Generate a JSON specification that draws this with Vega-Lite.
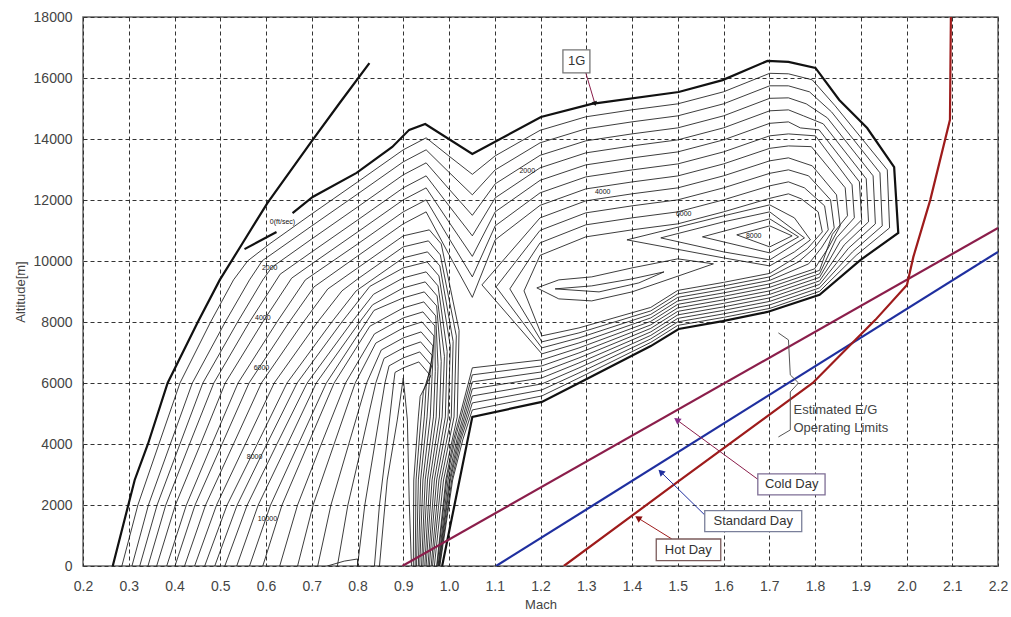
{
"$schema":"https://vega.github.io/schema/vega-lite/v6.json",
"width":915,"height":549,"autosize":"none",
"padding":{"left":83,"top":17,"right":13,"bottom":51},
"background":"white",
"config":{"view":{"stroke":"#666","strokeWidth":1.5},"font":"Liberation Sans"},
"datasets":{
"contours":[
{"c":"j1","m":0.285,"a":0},{"c":"j1","m":0.320,"a":2001},{"c":"j1","m":0.366,"a":4002},{"c":"j1","m":0.412,"a":6002},{"c":"j1","m":0.479,"a":8003},{"c":"j1","m":0.529,"a":9381},{"c":"j1","m":0.560,"a":10004},{"c":"j1","m":0.608,"a":10562},{"c":"j1","m":0.699,"a":11532},{"c":"j1","m":0.800,"a":12589},{"c":"j1","m":0.900,"a":13645},{"c":"j1","m":0.950,"a":14038},{"c":"j1","m":1.000,"a":13440},{"c":"j1","m":1.051,"a":12842},{"c":"j1","m":1.101,"a":13448},{"c":"j1","m":1.199,"a":14284},{"c":"j1","m":1.299,"a":14727},{"c":"j1","m":1.400,"a":14956},{"c":"j1","m":1.500,"a":15153},{"c":"j1","m":1.600,"a":15547},{"c":"j1","m":1.701,"a":16154},{"c":"j1","m":1.742,"a":16137},{"c":"j1","m":1.794,"a":15940},{"c":"j1","m":1.844,"a":15088},{"c":"j1","m":1.958,"a":12989},{"c":"j1","m":1.963,"a":11087},{"c":"j1","m":1.890,"a":10185},{"c":"j1","m":1.810,"a":9004},{"c":"j1","m":1.701,"a":8446},{"c":"j1","m":1.600,"a":8151},{"c":"j1","m":1.500,"a":7889},{"c":"j1","m":1.441,"a":7331},{"c":"j1","m":1.284,"a":6166},{"c":"j1","m":1.203,"a":5576},{"c":"j1","m":1.051,"a":5117},{"c":"j1","m":1.030,"a":4133},{"c":"j1","m":1.008,"a":2821},{"c":"j1","m":0.980,"a":0},
{"c":"j2","m":0.307,"a":0},{"c":"j2","m":0.343,"a":2001},{"c":"j2","m":0.391,"a":4002},{"c":"j2","m":0.439,"a":6002},{"c":"j2","m":0.511,"a":8003},{"c":"j2","m":0.564,"a":9381},{"c":"j2","m":0.592,"a":10011},{"c":"j2","m":0.699,"a":11139},{"c":"j2","m":0.800,"a":12195},{"c":"j2","m":0.900,"a":13251},{"c":"j2","m":0.950,"a":13645},{"c":"j2","m":1.000,"a":12908},{"c":"j2","m":1.051,"a":12170},{"c":"j2","m":1.101,"a":12989},{"c":"j2","m":1.199,"a":13874},{"c":"j2","m":1.299,"a":14333},{"c":"j2","m":1.400,"a":14562},{"c":"j2","m":1.500,"a":14759},{"c":"j2","m":1.600,"a":15153},{"c":"j2","m":1.701,"a":15744},{"c":"j2","m":1.742,"a":15743},{"c":"j2","m":1.788,"a":15546},{"c":"j2","m":1.836,"a":14891},{"c":"j2","m":1.942,"a":12891},{"c":"j2","m":1.947,"a":11153},{"c":"j2","m":1.882,"a":10300},{"c":"j2","m":1.810,"a":9119},{"c":"j2","m":1.701,"a":8561},{"c":"j2","m":1.600,"a":8266},{"c":"j2","m":1.500,"a":8004},{"c":"j2","m":1.441,"a":7446},{"c":"j2","m":1.284,"a":6330},{"c":"j2","m":1.203,"a":5773},{"c":"j2","m":1.051,"a":5347},{"c":"j2","m":1.026,"a":4133},{"c":"j2","m":1.006,"a":2821},{"c":"j2","m":0.979,"a":0},
{"c":"j3","m":0.324,"a":0},{"c":"j3","m":0.362,"a":2001},{"c":"j3","m":0.412,"a":4002},{"c":"j3","m":0.462,"a":6002},{"c":"j3","m":0.538,"a":8003},{"c":"j3","m":0.593,"a":9381},{"c":"j3","m":0.613,"a":9797},{"c":"j3","m":0.699,"a":10712},{"c":"j3","m":0.800,"a":11769},{"c":"j3","m":0.900,"a":12825},{"c":"j3","m":0.950,"a":13218},{"c":"j3","m":1.000,"a":12358},{"c":"j3","m":1.051,"a":11497},{"c":"j3","m":1.101,"a":12530},{"c":"j3","m":1.199,"a":13464},{"c":"j3","m":1.299,"a":13939},{"c":"j3","m":1.400,"a":14168},{"c":"j3","m":1.500,"a":14365},{"c":"j3","m":1.600,"a":14759},{"c":"j3","m":1.701,"a":15334},{"c":"j3","m":1.742,"a":15349},{"c":"j3","m":1.781,"a":15152},{"c":"j3","m":1.827,"a":14694},{"c":"j3","m":1.927,"a":12793},{"c":"j3","m":1.932,"a":11219},{"c":"j3","m":1.873,"a":10415},{"c":"j3","m":1.810,"a":9234},{"c":"j3","m":1.701,"a":8676},{"c":"j3","m":1.600,"a":8381},{"c":"j3","m":1.500,"a":8119},{"c":"j3","m":1.441,"a":7561},{"c":"j3","m":1.284,"a":6494},{"c":"j3","m":1.203,"a":5970},{"c":"j3","m":1.051,"a":5577},{"c":"j3","m":1.023,"a":4133},{"c":"j3","m":1.003,"a":2821},{"c":"j3","m":0.978,"a":0},
{"c":"j4","m":0.342,"a":0},{"c":"j4","m":0.381,"a":2001},{"c":"j4","m":0.433,"a":4002},{"c":"j4","m":0.486,"a":6002},{"c":"j4","m":0.564,"a":8003},{"c":"j4","m":0.631,"a":9568},{"c":"j4","m":0.699,"a":10286},{"c":"j4","m":0.800,"a":11342},{"c":"j4","m":0.900,"a":12398},{"c":"j4","m":0.950,"a":12792},{"c":"j4","m":1.000,"a":11809},{"c":"j4","m":1.051,"a":10825},{"c":"j4","m":1.101,"a":12071},{"c":"j4","m":1.199,"a":13054},{"c":"j4","m":1.299,"a":13545},{"c":"j4","m":1.400,"a":13774},{"c":"j4","m":1.500,"a":13971},{"c":"j4","m":1.600,"a":14365},{"c":"j4","m":1.701,"a":14924},{"c":"j4","m":1.742,"a":14955},{"c":"j4","m":1.775,"a":14758},{"c":"j4","m":1.818,"a":14497},{"c":"j4","m":1.912,"a":12695},{"c":"j4","m":1.917,"a":11285},{"c":"j4","m":1.864,"a":10530},{"c":"j4","m":1.810,"a":9349},{"c":"j4","m":1.701,"a":8791},{"c":"j4","m":1.600,"a":8496},{"c":"j4","m":1.500,"a":8234},{"c":"j4","m":1.441,"a":7676},{"c":"j4","m":1.284,"a":6658},{"c":"j4","m":1.203,"a":6167},{"c":"j4","m":1.051,"a":5807},{"c":"j4","m":1.020,"a":4133},{"c":"j4","m":1.001,"a":2821},{"c":"j4","m":0.977,"a":0},
{"c":"j5","m":0.361,"a":0},{"c":"j5","m":0.402,"a":2001},{"c":"j5","m":0.457,"a":4002},{"c":"j5","m":0.511,"a":6002},{"c":"j5","m":0.593,"a":8003},{"c":"j5","m":0.656,"a":9437},{"c":"j5","m":0.699,"a":9893},{"c":"j5","m":0.800,"a":10949},{"c":"j5","m":0.900,"a":12005},{"c":"j5","m":0.950,"a":12398},{"c":"j5","m":1.000,"a":11275},{"c":"j5","m":1.051,"a":10152},{"c":"j5","m":1.101,"a":11612},{"c":"j5","m":1.199,"a":12644},{"c":"j5","m":1.299,"a":13151},{"c":"j5","m":1.400,"a":13380},{"c":"j5","m":1.500,"a":13577},{"c":"j5","m":1.600,"a":13971},{"c":"j5","m":1.701,"a":14514},{"c":"j5","m":1.742,"a":14561},{"c":"j5","m":1.768,"a":14364},{"c":"j5","m":1.809,"a":14300},{"c":"j5","m":1.897,"a":12597},{"c":"j5","m":1.902,"a":11351},{"c":"j5","m":1.855,"a":10645},{"c":"j5","m":1.810,"a":9464},{"c":"j5","m":1.701,"a":8906},{"c":"j5","m":1.600,"a":8611},{"c":"j5","m":1.500,"a":8349},{"c":"j5","m":1.441,"a":7791},{"c":"j5","m":1.284,"a":6822},{"c":"j5","m":1.203,"a":6364},{"c":"j5","m":1.051,"a":6037},{"c":"j5","m":1.017,"a":4133},{"c":"j5","m":0.998,"a":2821},{"c":"j5","m":0.976,"a":0},
{"c":"j6","m":0.383,"a":0},{"c":"j6","m":0.426,"a":2001},{"c":"j6","m":0.482,"a":4002},{"c":"j6","m":0.539,"a":6002},{"c":"j6","m":0.624,"a":8003},{"c":"j6","m":0.686,"a":9381},{"c":"j6","m":0.800,"a":10555},{"c":"j6","m":0.900,"a":11611},{"c":"j6","m":0.950,"a":12005},{"c":"j6","m":1.000,"a":10743},{"c":"j6","m":1.051,"a":9480},{"c":"j6","m":1.101,"a":11153},{"c":"j6","m":1.199,"a":12234},{"c":"j6","m":1.299,"a":12757},{"c":"j6","m":1.400,"a":12986},{"c":"j6","m":1.500,"a":13183},{"c":"j6","m":1.600,"a":13577},{"c":"j6","m":1.701,"a":14104},{"c":"j6","m":1.742,"a":14167},{"c":"j6","m":1.801,"a":14103},{"c":"j6","m":1.881,"a":12499},{"c":"j6","m":1.886,"a":11417},{"c":"j6","m":1.847,"a":10760},{"c":"j6","m":1.810,"a":9579},{"c":"j6","m":1.701,"a":9021},{"c":"j6","m":1.600,"a":8726},{"c":"j6","m":1.500,"a":8464},{"c":"j6","m":1.441,"a":7906},{"c":"j6","m":1.284,"a":6986},{"c":"j6","m":1.203,"a":6561},{"c":"j6","m":1.051,"a":6267},{"c":"j6","m":1.013,"a":4133},{"c":"j6","m":0.995,"a":2821},{"c":"j6","m":0.974,"a":0},
{"c":"j7","m":0.401,"a":0},{"c":"j7","m":0.445,"a":2001},{"c":"j7","m":0.504,"a":4002},{"c":"j7","m":0.563,"a":6002},{"c":"j7","m":0.651,"a":8003},{"c":"j7","m":0.705,"a":9151},{"c":"j7","m":0.800,"a":10161},{"c":"j7","m":0.900,"a":11218},{"c":"j7","m":0.950,"a":11611},{"c":"j7","m":1.000,"a":10210},{"c":"j7","m":1.051,"a":8808},{"c":"j7","m":1.101,"a":10694},{"c":"j7","m":1.199,"a":11824},{"c":"j7","m":1.299,"a":12363},{"c":"j7","m":1.400,"a":12592},{"c":"j7","m":1.500,"a":12789},{"c":"j7","m":1.600,"a":13183},{"c":"j7","m":1.701,"a":13694},{"c":"j7","m":1.742,"a":13773},{"c":"j7","m":1.792,"a":13750},{"c":"j7","m":1.866,"a":12401},{"c":"j7","m":1.871,"a":11483},{"c":"j7","m":1.838,"a":10875},{"c":"j7","m":1.810,"a":9694},{"c":"j7","m":1.701,"a":9136},{"c":"j7","m":1.600,"a":8841},{"c":"j7","m":1.500,"a":8579},{"c":"j7","m":1.441,"a":8021},{"c":"j7","m":1.284,"a":7150},{"c":"j7","m":1.203,"a":6758},{"c":"j7","m":1.051,"a":6497},{"c":"j7","m":1.010,"a":4133},{"c":"j7","m":0.993,"a":2821},{"c":"j7","m":0.973,"a":0},
{"c":"j8","m":0.422,"a":0},{"c":"j8","m":0.468,"a":2001},{"c":"j8","m":0.529,"a":4002},{"c":"j8","m":0.590,"a":6002},{"c":"j8","m":0.682,"a":8003},{"c":"j8","m":0.735,"a":9082},{"c":"j8","m":0.800,"a":9768},{"c":"j8","m":0.900,"a":10824},{"c":"j8","m":0.957,"a":11021},{"c":"j8","m":0.983,"a":10562},{"c":"j8","m":1.022,"a":7724},{"c":"j8","m":1.018,"a":4887},{"c":"j8","m":0.988,"a":2821},{"c":"j8","m":0.968,"a":0},
{"c":"j9","m":0.444,"a":0},{"c":"j9","m":0.492,"a":2001},{"c":"j9","m":0.555,"a":4002},{"c":"j9","m":0.618,"a":6002},{"c":"j9","m":0.713,"a":8003},{"c":"j9","m":0.766,"a":9020},{"c":"j9","m":0.800,"a":9407},{"c":"j9","m":0.900,"a":10463},{"c":"j9","m":0.955,"a":10660},{"c":"j9","m":0.981,"a":10201},{"c":"j9","m":1.016,"a":7544},{"c":"j9","m":1.011,"a":4887},{"c":"j9","m":0.983,"a":2821},{"c":"j9","m":0.964,"a":0},
{"c":"j10","m":0.466,"a":0},{"c":"j10","m":0.515,"a":2001},{"c":"j10","m":0.581,"a":4002},{"c":"j10","m":0.646,"a":6002},{"c":"j10","m":0.744,"a":8003},{"c":"j10","m":0.797,"a":9020},{"c":"j10","m":0.900,"a":10102},{"c":"j10","m":0.953,"a":10299},{"c":"j10","m":0.980,"a":9840},{"c":"j10","m":1.009,"a":7364},{"c":"j10","m":1.005,"a":4887},{"c":"j10","m":0.978,"a":2821},{"c":"j10","m":0.961,"a":0},
{"c":"j11","m":0.488,"a":0},{"c":"j11","m":0.537,"a":2001},{"c":"j11","m":0.602,"a":4002},{"c":"j11","m":0.668,"a":6002},{"c":"j11","m":0.766,"a":8003},{"c":"j11","m":0.827,"a":9168},{"c":"j11","m":0.900,"a":9774},{"c":"j11","m":0.952,"a":9971},{"c":"j11","m":0.978,"a":9512},{"c":"j11","m":1.003,"a":7200},{"c":"j11","m":0.998,"a":4887},{"c":"j11","m":0.973,"a":2821},{"c":"j11","m":0.957,"a":0},
{"c":"j12","m":0.510,"a":0},{"c":"j12","m":0.559,"a":2001},{"c":"j12","m":0.624,"a":4002},{"c":"j12","m":0.690,"a":6002},{"c":"j12","m":0.788,"a":8003},{"c":"j12","m":0.835,"a":8908},{"c":"j12","m":0.900,"a":9446},{"c":"j12","m":0.950,"a":9643},{"c":"j12","m":0.976,"a":9184},{"c":"j12","m":0.996,"a":7036},{"c":"j12","m":0.992,"a":4887},{"c":"j12","m":0.968,"a":2821},{"c":"j12","m":0.954,"a":0},
{"c":"j13","m":0.536,"a":0},{"c":"j13","m":0.583,"a":2001},{"c":"j13","m":0.647,"a":4002},{"c":"j13","m":0.710,"a":6002},{"c":"j13","m":0.805,"a":8003},{"c":"j13","m":0.833,"a":8564},{"c":"j13","m":0.900,"a":9118},{"c":"j13","m":0.948,"a":9315},{"c":"j13","m":0.974,"a":8856},{"c":"j13","m":0.990,"a":6872},{"c":"j13","m":0.985,"a":4887},{"c":"j13","m":0.963,"a":2821},{"c":"j13","m":0.950,"a":0},
{"c":"j14","m":0.564,"a":0},{"c":"j14","m":0.610,"a":2001},{"c":"j14","m":0.671,"a":4002},{"c":"j14","m":0.732,"a":6002},{"c":"j14","m":0.836,"a":8380},{"c":"j14","m":0.900,"a":8790},{"c":"j14","m":0.946,"a":8987},{"c":"j14","m":0.973,"a":8528},{"c":"j14","m":0.983,"a":6708},{"c":"j14","m":0.979,"a":4887},{"c":"j14","m":0.958,"a":2821},{"c":"j14","m":0.947,"a":0},
{"c":"j15","m":0.593,"a":0},{"c":"j15","m":0.635,"a":2001},{"c":"j15","m":0.692,"a":4002},{"c":"j15","m":0.749,"a":6002},{"c":"j15","m":0.827,"a":7862},{"c":"j15","m":0.900,"a":8462},{"c":"j15","m":0.945,"a":8659},{"c":"j15","m":0.971,"a":8200},{"c":"j15","m":0.976,"a":6544},{"c":"j15","m":0.972,"a":4887},{"c":"j15","m":0.953,"a":2821},{"c":"j15","m":0.943,"a":0},
{"c":"j16","m":0.630,"a":0},{"c":"j16","m":0.669,"a":2001},{"c":"j16","m":0.721,"a":4002},{"c":"j16","m":0.774,"a":6002},{"c":"j16","m":0.837,"a":7610},{"c":"j16","m":0.900,"a":8134},{"c":"j16","m":0.943,"a":8331},{"c":"j16","m":0.969,"a":7872},{"c":"j16","m":0.970,"a":6380},{"c":"j16","m":0.966,"a":4887},{"c":"j16","m":0.948,"a":2821},{"c":"j16","m":0.940,"a":0},
{"c":"j17","m":0.669,"a":0},{"c":"j17","m":0.703,"a":2001},{"c":"j17","m":0.749,"a":4002},{"c":"j17","m":0.795,"a":6002},{"c":"j17","m":0.840,"a":7308},{"c":"j17","m":0.900,"a":7806},{"c":"j17","m":0.941,"a":8003},{"c":"j17","m":0.967,"a":7544},{"c":"j17","m":0.963,"a":6216},{"c":"j17","m":0.959,"a":4887},{"c":"j17","m":0.943,"a":2821},{"c":"j17","m":0.936,"a":0},
{"c":"j18","m":0.713,"a":0},{"c":"j18","m":0.742,"a":2001},{"c":"j18","m":0.781,"a":4002},{"c":"j18","m":0.820,"a":6002},{"c":"j18","m":0.852,"a":7082},{"c":"j18","m":0.900,"a":7478},{"c":"j18","m":0.939,"a":7675},{"c":"j18","m":0.965,"a":7216},{"c":"j18","m":0.957,"a":6052},{"c":"j18","m":0.952,"a":4887},{"c":"j18","m":0.938,"a":2821},{"c":"j18","m":0.933,"a":0},
{"c":"j19","m":0.756,"a":0},{"c":"j19","m":0.779,"a":2001},{"c":"j19","m":0.810,"a":4002},{"c":"j19","m":0.840,"a":6002},{"c":"j19","m":0.858,"a":6806},{"c":"j19","m":0.900,"a":7150},{"c":"j19","m":0.938,"a":7347},{"c":"j19","m":0.964,"a":6888},{"c":"j19","m":0.950,"a":5888},{"c":"j19","m":0.946,"a":4887},{"c":"j19","m":0.933,"a":2821},{"c":"j19","m":0.929,"a":0},
{"c":"j20","m":0.800,"a":0},{"c":"j20","m":0.816,"a":2001},{"c":"j20","m":0.838,"a":4002},{"c":"j20","m":0.860,"a":6002},{"c":"j20","m":0.869,"a":6563},{"c":"j20","m":0.900,"a":6822},{"c":"j20","m":0.936,"a":7019},{"c":"j20","m":0.962,"a":6560},{"c":"j20","m":0.944,"a":5724},{"c":"j20","m":0.939,"a":4887},{"c":"j20","m":0.928,"a":2821},{"c":"j20","m":0.926,"a":0},
{"c":"j21","m":0.837,"a":0},{"c":"j21","m":0.848,"a":2001},{"c":"j21","m":0.864,"a":4002},{"c":"j21","m":0.879,"a":6002},{"c":"j21","m":0.882,"a":6347},{"c":"j21","m":0.900,"a":6494},{"c":"j21","m":0.934,"a":6691},{"c":"j21","m":0.960,"a":6232},{"c":"j21","m":0.937,"a":5560},{"c":"j21","m":0.933,"a":4887},{"c":"j21","m":0.923,"a":2821},{"c":"j21","m":0.922,"a":0},
{"c":"j22","m":0.848,"a":0},{"c":"j22","m":0.865,"a":2821},{"c":"j22","m":0.887,"a":4789},{"c":"j22","m":0.900,"a":6166},{"c":"j22","m":0.909,"a":4789},{"c":"j22","m":0.913,"a":2165},{"c":"j22","m":0.918,"a":0},
{"c":"bump","m":0.734,"a":0},{"c":"bump","m":0.771,"a":160},{"c":"bump","m":0.800,"a":230},{"c":"bump","m":0.800,"a":0},
{"c":"k8","m":1.072,"a":9217},{"c":"k8","m":1.199,"a":11414},{"c":"k8","m":1.299,"a":11972},{"c":"k8","m":1.400,"a":12202},{"c":"k8","m":1.500,"a":12398},{"c":"k8","m":1.600,"a":12792},{"c":"k8","m":1.701,"a":13284},{"c":"k8","m":1.742,"a":13382},{"c":"k8","m":1.794,"a":13120},{"c":"k8","m":1.847,"a":12169},{"c":"k8","m":1.855,"a":11152},{"c":"k8","m":1.829,"a":10430},{"c":"k8","m":1.799,"a":9742},{"c":"k8","m":1.701,"a":9250},{"c":"k8","m":1.600,"a":8954},{"c":"k8","m":1.500,"a":8692},{"c":"k8","m":1.441,"a":8134},{"c":"k8","m":1.284,"a":7314},{"c":"k8","m":1.203,"a":6955},{"c":"k8","m":1.072,"a":9217},
{"c":"k9","m":1.103,"a":9151},{"c":"k9","m":1.199,"a":11004},{"c":"k9","m":1.299,"a":11578},{"c":"k9","m":1.400,"a":11808},{"c":"k9","m":1.500,"a":12005},{"c":"k9","m":1.600,"a":12398},{"c":"k9","m":1.701,"a":12874},{"c":"k9","m":1.742,"a":12989},{"c":"k9","m":1.786,"a":12792},{"c":"k9","m":1.834,"a":12005},{"c":"k9","m":1.842,"a":11086},{"c":"k9","m":1.814,"a":10430},{"c":"k9","m":1.786,"a":9906},{"c":"k9","m":1.701,"a":9364},{"c":"k9","m":1.600,"a":9069},{"c":"k9","m":1.500,"a":8807},{"c":"k9","m":1.441,"a":8249},{"c":"k9","m":1.284,"a":7478},{"c":"k9","m":1.203,"a":7152},{"c":"k9","m":1.103,"a":9151},
{"c":"k10","m":1.133,"a":9086},{"c":"k10","m":1.199,"a":10594},{"c":"k10","m":1.299,"a":11185},{"c":"k10","m":1.400,"a":11414},{"c":"k10","m":1.500,"a":11611},{"c":"k10","m":1.600,"a":12005},{"c":"k10","m":1.701,"a":12464},{"c":"k10","m":1.742,"a":12595},{"c":"k10","m":1.777,"a":12398},{"c":"k10","m":1.821,"a":11808},{"c":"k10","m":1.829,"a":11021},{"c":"k10","m":1.799,"a":10430},{"c":"k10","m":1.764,"a":9971},{"c":"k10","m":1.701,"a":9479},{"c":"k10","m":1.600,"a":9184},{"c":"k10","m":1.500,"a":8922},{"c":"k10","m":1.441,"a":8364},{"c":"k10","m":1.284,"a":7642},{"c":"k10","m":1.203,"a":7349},{"c":"k10","m":1.133,"a":9086},
{"c":"k11","m":1.164,"a":9020},{"c":"k11","m":1.199,"a":10184},{"c":"k11","m":1.299,"a":10791},{"c":"k11","m":1.400,"a":11021},{"c":"k11","m":1.500,"a":11218},{"c":"k11","m":1.600,"a":11611},{"c":"k11","m":1.701,"a":12054},{"c":"k11","m":1.742,"a":12202},{"c":"k11","m":1.770,"a":12038},{"c":"k11","m":1.807,"a":11611},{"c":"k11","m":1.816,"a":10955},{"c":"k11","m":1.783,"a":10398},{"c":"k11","m":1.749,"a":10037},{"c":"k11","m":1.701,"a":9594},{"c":"k11","m":1.600,"a":9299},{"c":"k11","m":1.500,"a":9036},{"c":"k11","m":1.441,"a":8479},{"c":"k11","m":1.284,"a":7806},{"c":"k11","m":1.203,"a":7546},{"c":"k11","m":1.164,"a":9020},
{"c":"u1","m":1.192,"a":9118},{"c":"u1","m":1.240,"a":9381},{"c":"u1","m":1.312,"a":9479},{"c":"u1","m":1.400,"a":9774},{"c":"u1","m":1.500,"a":10070},{"c":"u1","m":1.578,"a":9907},{"c":"u1","m":1.502,"a":9512},{"c":"u1","m":1.400,"a":8987},{"c":"u1","m":1.312,"a":8692},{"c":"u1","m":1.240,"a":8758},{"c":"u1","m":1.192,"a":9118},
{"c":"u2","m":1.232,"a":9086},{"c":"u2","m":1.312,"a":9184},{"c":"u2","m":1.400,"a":9414},{"c":"u2","m":1.470,"a":9643},{"c":"u2","m":1.415,"a":9282},{"c":"u2","m":1.328,"a":8987},{"c":"u2","m":1.232,"a":9086},
{"c":"d1","m":1.389,"a":10693},{"c":"d1","m":1.600,"a":11480},{"c":"d1","m":1.701,"a":11841},{"c":"d1","m":1.755,"a":11414},{"c":"d1","m":1.790,"a":10693},{"c":"d1","m":1.755,"a":10299},{"c":"d1","m":1.701,"a":9840},{"c":"d1","m":1.600,"a":10102},{"c":"d1","m":1.389,"a":10693},
{"c":"d2","m":1.463,"a":10758},{"c":"d2","m":1.600,"a":11283},{"c":"d2","m":1.701,"a":11611},{"c":"d2","m":1.777,"a":10758},{"c":"d2","m":1.701,"a":10037},{"c":"d2","m":1.600,"a":10299},{"c":"d2","m":1.463,"a":10758},
{"c":"d3","m":1.554,"a":10791},{"c":"d3","m":1.701,"a":11382},{"c":"d3","m":1.764,"a":10791},{"c":"d3","m":1.701,"a":10266},{"c":"d3","m":1.554,"a":10791},
{"c":"d4","m":1.629,"a":10857},{"c":"d4","m":1.701,"a":11152},{"c":"d4","m":1.750,"a":10824},{"c":"d4","m":1.701,"a":10463},{"c":"d4","m":1.629,"a":10857}
],
"thick":[
{"c":"left","m":0.265,"a":0},{"c":"left","m":0.313,"a":2820},{"c":"left","m":0.342,"a":4000},{"c":"left","m":0.385,"a":6000},{"c":"left","m":0.451,"a":8000},{"c":"left","m":0.499,"a":9380},{"c":"left","m":0.549,"a":10590},{"c":"left","m":0.603,"a":11900},{"c":"left","m":0.702,"a":13970},{"c":"left","m":0.761,"a":15180},{"c":"left","m":0.826,"a":16490},
{"c":"seg","m":0.553,"a":10390},{"c":"seg","m":0.623,"a":10950},
{"c":"env","m":0.658,"a":11570},{"c":"env","m":0.702,"a":12100},{"c":"env","m":0.798,"a":12890},{"c":"env","m":0.876,"a":13740},{"c":"env","m":0.913,"a":14300},{"c":"env","m":0.948,"a":14490},{"c":"env","m":1.051,"a":13510},{"c":"env","m":1.201,"a":14720},{"c":"env","m":1.312,"a":15150},{"c":"env","m":1.502,"a":15540},{"c":"env","m":1.598,"a":15930},{"c":"env","m":1.696,"a":16560},{"c":"env","m":1.742,"a":16530},{"c":"env","m":1.801,"a":16330},{"c":"env","m":1.853,"a":15280},{"c":"env","m":1.914,"a":14360},{"c":"env","m":1.973,"a":13080},{"c":"env","m":1.982,"a":10920},{"c":"env","m":1.899,"a":10030},{"c":"env","m":1.810,"a":8890},{"c":"env","m":1.696,"a":8330},{"c":"env","m":1.598,"a":8030},{"c":"env","m":1.502,"a":7770},{"c":"env","m":1.441,"a":7210},{"c":"env","m":1.284,"a":6000},{"c":"env","m":1.203,"a":5380},{"c":"env","m":1.051,"a":4890},{"c":"env","m":0.985,"a":0}
],
"limits":[
{"c":"cold","m":0.898,"a":0},{"c":"cold","m":2.2,"a":11082},
{"c":"std","m":1.103,"a":0},{"c":"std","m":2.2,"a":10300},
{"c":"hot","m":1.251,"a":0},{"c":"hot","m":1.502,"a":2780},{"c":"hot","m":1.795,"a":6000},{"c":"hot","m":1.888,"a":7410},{"c":"hot","m":1.932,"a":8070},{"c":"hot","m":2.001,"a":9217},{"c":"hot","m":2.015,"a":10135},{"c":"hot","m":2.052,"a":12005},{"c":"hot","m":2.095,"a":14630},{"c":"hot","m":2.097,"a":18000}
],
"arrows":[
{"c":"cold","m":1.677,"a":2821},{"c":"cold","m":1.498,"a":4789},
{"c":"std","m":1.559,"a":1673},{"c":"std","m":1.463,"a":3083},
{"c":"hot","m":1.487,"a":886},{"c":"hot","m":1.413,"a":1574},
{"c":"g1","m":1.299,"a":16170},{"c":"g1","m":1.319,"a":15154}
],
"heads":[
{"c":"cold","m":1.498,"a":4789},{"c":"std","m":1.463,"a":3083},{"c":"hot","m":1.413,"a":1574},{"c":"g1","m":1.319,"a":15154}
],
"brace":[
{"m":1.720,"a":7642},{"m":1.742,"a":7413},{"m":1.746,"a":6265},{"m":1.764,"a":6002},{"m":1.746,"a":5707},{"m":1.746,"a":4461},{"m":1.720,"a":4231}
],
"boxes":[
{"c":"cold","m":1.675,"m2":1.822,"a":3018,"a2":2329},
{"c":"std","m":1.559,"m2":1.771,"a":1814,"a2":1125},
{"c":"hot","m":1.453,"m2":1.594,"a":886,"a2":174},
{"c":"g1","m":1.249,"m2":1.308,"a":16925,"a2":16170}
],
"boxtext":[
{"t":"Cold Day","m":1.749,"a":2673},{"t":"Standard Day","m":1.665,"a":1470},{"t":"Hot Day","m":1.523,"a":530},{"t":"1G","m":1.279,"a":16548}
],
"notes":[
{"t":"Estimated E/G","m":1.753,"a":5117},{"t":"Operating Limits","m":1.753,"a":4526}
],
"labels":[
{"t":"0(ft/sec)","m":0.636,"a":11283},{"t":"2000","m":0.608,"a":9774},{"t":"4000","m":0.593,"a":8134},{"t":"6000","m":0.590,"a":6494},{"t":"8000","m":0.575,"a":3575},{"t":"10000","m":0.603,"a":1542},
{"t":"2000","m":1.171,"a":12956},{"t":"4000","m":1.336,"a":12267},{"t":"6000","m":1.513,"a":11546},{"t":"8000","m":1.666,"a":10824}
]
},
"encoding":{
"x":{"field":"m","type":"quantitative","scale":{"domain":[0.2,2.2],"nice":false,"zero":false},
"axis":{"values":[0.2,0.3,0.4,0.5,0.6,0.7,0.8,0.9,1.0,1.1,1.2,1.3,1.4,1.5,1.6,1.7,1.8,1.9,2.0,2.1,2.2],"format":".1f","title":"Mach","tickSize":0,"labelPadding":13,"domain":false,"grid":true,"gridDash":[4,3],"gridColor":"#333","gridWidth":1,"gridOpacity":1,"labelFlush":false,"labelOverlap":false,"labelFontSize":14,"labelColor":"#444","titleFontSize":13,"titleFontWeight":"normal","titleColor":"#444","titlePadding":5,"labelFont":"Liberation Sans","titleFont":"Liberation Sans"}},
"y":{"field":"a","type":"quantitative","scale":{"domain":[0,18000],"nice":false},
"axis":{"values":[0,2000,4000,6000,8000,10000,12000,14000,16000,18000],"format":"d","title":"Altitude[m]","tickSize":0,"labelPadding":11,"domain":false,"grid":true,"gridDash":[4,3],"gridColor":"#333","gridWidth":1,"gridOpacity":1,"labelOverlap":false,"labelFontSize":14,"labelColor":"#444","titleFontSize":13,"titleFontWeight":"normal","titleColor":"#444","titlePadding":6,"labelFont":"Liberation Sans","titleFont":"Liberation Sans"}}
},
"layer":[
{"data":{"name":"contours"},"mark":{"type":"line","color":"#1a1a1a","strokeWidth":0.85,"clip":true},"encoding":{"detail":{"field":"c","type":"nominal"},"order":{"value":null}}},
{"data":{"name":"thick"},"mark":{"type":"line","color":"#111","strokeWidth":2.2,"clip":true},"encoding":{"detail":{"field":"c","type":"nominal"},"order":{"value":null}}},
{"data":{"name":"limits"},"mark":{"type":"line","strokeWidth":2.2,"clip":true},"encoding":{"color":{"field":"c","type":"nominal","scale":{"domain":["cold","std","hot"],"range":["#8B1E4B","#1F2F9F","#9E1B1B"]},"legend":null},"order":{"value":null}}},
{"data":{"name":"brace"},"mark":{"type":"line","color":"#555","strokeWidth":1},"encoding":{"order":{"value":null}}},
{"data":{"name":"arrows"},"mark":{"type":"line","strokeWidth":1},"encoding":{"detail":{"field":"c","type":"nominal"},"color":{"field":"c","type":"nominal","scale":{"domain":["cold","std","hot","g1"],"range":["#666","#666","#666","#222"]},"legend":null},"order":{"value":null}}},
{"data":{"name":"heads"},"transform":[{"filter":"datum.c == 'cold'"}],"mark":{"type":"point","shape":"triangle-up","filled":true,"size":55,"angle":305,"color":"#8B2C8B","opacity":1}},
{"data":{"name":"heads"},"transform":[{"filter":"datum.c == 'std'"}],"mark":{"type":"point","shape":"triangle-up","filled":true,"size":55,"angle":314,"color":"#1F2F9F","opacity":1}},
{"data":{"name":"heads"},"transform":[{"filter":"datum.c == 'hot'"}],"mark":{"type":"point","shape":"triangle-up","filled":true,"size":55,"angle":302,"color":"#8B1010","opacity":1}},
{"data":{"name":"heads"},"transform":[{"filter":"datum.c == 'g1'"}],"mark":{"type":"point","shape":"triangle-up","filled":true,"size":30,"angle":164,"color":"#111","opacity":1}},
{"data":{"name":"boxes"},"mark":{"type":"rect","fill":"white","strokeWidth":1.3},"encoding":{"x2":{"field":"m2"},"y2":{"field":"a2"},"stroke":{"field":"c","type":"nominal","scale":{"domain":["cold","std","hot","g1"],"range":["#7E6E95","#7A7F9A","#7B5B5B","#777"]},"legend":null}}},
{"data":{"name":"boxtext"},"mark":{"type":"text","fontSize":13,"color":"#333","align":"center","baseline":"middle","font":"Liberation Sans"},"encoding":{"text":{"field":"t"}}},
{"data":{"name":"notes"},"mark":{"type":"text","fontSize":13,"color":"#444","align":"left","baseline":"middle","font":"Liberation Sans"},"encoding":{"text":{"field":"t"}}},
{"data":{"name":"labels"},"mark":{"type":"text","fontSize":7,"color":"#111","align":"center","baseline":"middle","font":"Liberation Sans"},"encoding":{"text":{"field":"t"}}}
]
}
